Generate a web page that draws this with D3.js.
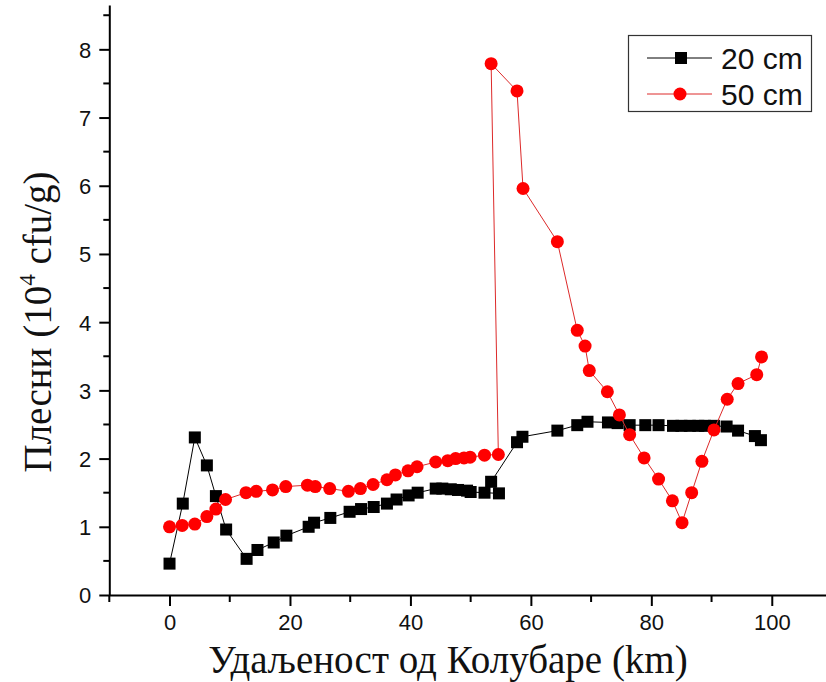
<!DOCTYPE html>
<html>
<head>
<meta charset="utf-8">
<script src="https://cdn.jsdelivr.net/npm/d3@7"></script>
<style>
  html, body { margin: 0; padding: 0; background: #fff; }
  svg { display: block; }
</style>
</head>
<body>
<svg id="chart" width="826" height="682"></svg>
<script>
// Distance from the Kolubara river (km) and mould counts (10^4 cfu/g)
const dist20 = [0, 2.2, 4.2, 6.2, 7.7, 9.4, 12.8, 14.6, 17.3, 19.4, 23.1, 24.0, 26.7, 29.9, 31.8, 33.9,
  36.1, 37.7, 39.7, 41.2, 44.2, 45.3, 46.7, 47.9, 49.4, 50.0, 52.3, 54.7, 53.4, 57.7, 58.6, 64.4,
  67.7, 69.4, 72.8, 74.4, 76.4, 79.0, 81.2, 83.6, 85.0, 86.4, 87.8, 88.9, 90.4, 92.5, 94.4, 97.2, 98.2];
const mould20 = [0.46, 1.34, 2.31, 1.90, 1.45, 0.96, 0.53, 0.66, 0.77, 0.87, 1.00, 1.06, 1.13, 1.22, 1.26, 1.29,
  1.34, 1.40, 1.46, 1.50, 1.56, 1.56, 1.55, 1.54, 1.53, 1.51, 1.50, 1.49, 1.66, 2.24, 2.32, 2.41,
  2.49, 2.54, 2.53, 2.52, 2.49, 2.49, 2.49, 2.48, 2.48, 2.48, 2.48, 2.48, 2.48, 2.47, 2.41, 2.33, 2.27];

const dist50 = [0, 2.1, 4.2, 6.2, 7.7, 9.3, 12.7, 14.4, 17.1, 19.3, 22.9, 24.2, 26.6, 29.7, 31.7, 33.8,
  36.1, 37.5, 39.6, 41.1, 44.2, 46.2, 47.5, 48.9, 49.9, 52.3, 54.6, 53.4, 57.7, 58.7, 64.4,
  67.7, 69.0, 69.7, 72.7, 74.7, 76.4, 78.8, 81.2, 83.5, 85.1, 86.7, 88.4, 90.4, 92.6, 94.4, 97.5, 98.3];
const mould50 = [1.00, 1.02, 1.04, 1.15, 1.26, 1.40, 1.50, 1.52, 1.54, 1.59, 1.61, 1.59, 1.56, 1.52, 1.56, 1.62,
  1.69, 1.76, 1.82, 1.88, 1.95, 1.97, 2.00, 2.01, 2.02, 2.05, 2.06, 7.79, 7.39, 5.96, 5.18,
  3.88, 3.65, 3.29, 2.98, 2.64, 2.35, 2.01, 1.70, 1.38, 1.06, 1.50, 1.96, 2.42, 2.87, 3.10, 3.23, 3.49];

const xTicks = [0, 20, 40, 60, 80, 100];
const yTicks = [0, 1, 2, 3, 4, 5, 6, 7, 8];
const seriesNames = ["20 cm", "50 cm"];

const svg = d3.select("#chart");

const x = d3.scaleLinear().domain([-10, 110]).range([109.3, 832]);
const y = d3.scaleLinear().domain([0, 8.65]).range([595, 5]);

const sansFont = "'Liberation Sans', Arial, sans-serif";
const serifFont = "'Liberation Serif', 'Times New Roman', serif";

// Minor ticks
const xMinor = d3.range(-10, 111, 20);
const yMinor = d3.range(0.5, 8.6, 1);

const xAxis = d3.axisBottom(x).tickValues(xTicks).tickSize(11).tickPadding(8).tickSizeOuter(0);
const yAxis = d3.axisLeft(y).tickValues(yTicks).tickSize(10).tickPadding(8).tickSizeOuter(0);

const gx = svg.append("g").attr("transform", `translate(0,${y(0)})`).call(xAxis);
gx.append("g").selectAll("line").data(xMinor).join("line")
  .attr("x1", d => x(d)).attr("x2", d => x(d)).attr("y1", 0).attr("y2", 7)
  .attr("stroke", "#000").attr("stroke-width", 2);

const gy = svg.append("g").attr("transform", `translate(${x(-10)},0)`).call(yAxis);
gy.append("g").selectAll("line").data(yMinor).join("line")
  .attr("y1", d => y(d)).attr("y2", d => y(d)).attr("x1", 0).attr("x2", -6)
  .attr("stroke", "#000").attr("stroke-width", 2);

[gx, gy].forEach(g => {
  g.select(".domain").attr("stroke", "#000").attr("stroke-width", 2);
  g.selectAll(".tick line").attr("stroke", "#000").attr("stroke-width", 2);
  g.selectAll(".tick text").attr("font-family", sansFont).attr("font-size", 22).attr("fill", "#111");
});
gy.selectAll(".tick text").attr("dy", "0.36em");

// Axis titles
svg.append("text")
  .attr("x", 448).attr("y", 673)
  .attr("text-anchor", "middle")
  .attr("font-family", serifFont).attr("font-size", 39).attr("fill", "#111")
  .text("Удаљеност од Колубаре (km)");

const yTitle = svg.append("text")
  .attr("transform", "translate(51,322) rotate(-90)")
  .attr("text-anchor", "middle")
  .attr("font-family", serifFont).attr("font-size", 39).attr("fill", "#111");
yTitle.append("tspan").text("Плесни (10");
yTitle.append("tspan").attr("font-size", 23).attr("dy", -16).text("4");
yTitle.append("tspan").attr("dy", 16).text(" cfu/g)");

// Series
const pts20 = dist20.map((d, i) => [d, mould20[i]]);
const pts50 = dist50.map((d, i) => [d, mould50[i]]);
const line = d3.line().x(d => x(d[0])).y(d => y(d[1]));

const plot = svg.append("g");
const sq = 12;

plot.append("path").datum(pts20).attr("d", line)
  .attr("fill", "none").attr("stroke", "#000").attr("stroke-width", 1);
plot.append("g").selectAll("rect").data(pts20).join("rect")
  .attr("x", d => x(d[0]) - sq / 2).attr("y", d => y(d[1]) - sq / 2)
  .attr("width", sq).attr("height", sq).attr("fill", "#000");

plot.append("path").datum(pts50).attr("d", line)
  .attr("fill", "none").attr("stroke", "#dd2a2a").attr("stroke-width", 1);
plot.append("g").selectAll("circle").data(pts50).join("circle")
  .attr("cx", d => x(d[0])).attr("cy", d => y(d[1])).attr("r", 6.5)
  .attr("fill", "#ff0000");

// Legend
const legend = svg.append("g");
legend.append("rect")
  .attr("x", 628.5).attr("y", 35.5).attr("width", 183).attr("height", 76)
  .attr("fill", "#fff").attr("stroke", "#333").attr("stroke-width", 1.2);

const rows = [58, 94];
seriesNames.forEach((name, i) => {
  const ry = rows[i];
  legend.append("line")
    .attr("x1", 647).attr("x2", 712).attr("y1", ry).attr("y2", ry)
    .attr("stroke", i === 0 ? "#000" : "#dd2a2a").attr("stroke-width", 1);
  if (i === 0) {
    legend.append("rect").attr("x", 681 - sq / 2).attr("y", ry - sq / 2)
      .attr("width", sq).attr("height", sq).attr("fill", "#000");
  } else {
    legend.append("circle").attr("cx", 680).attr("cy", ry).attr("r", 6.5).attr("fill", "#ff0000");
  }
  legend.append("text")
    .attr("x", 721).attr("y", ry + 10.5)
    .attr("font-family", sansFont).attr("font-size", 30).attr("fill", "#111")
    .text(name);
});
</script>
</body>
</html>
